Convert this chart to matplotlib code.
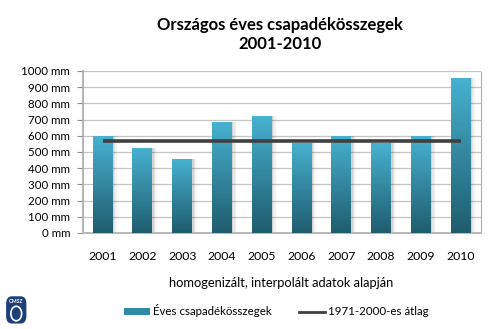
import matplotlib

matplotlib.use("Agg")
import matplotlib.pyplot as plt  # noqa: E402
import numpy as np  # noqa: E402
from matplotlib.colors import LinearSegmentedColormap  # noqa: E402
from matplotlib.lines import Line2D  # noqa: E402
from matplotlib.patches import Patch, FancyBboxPatch  # noqa: E402

plt.rcParams["font.family"] = ["Lato", "DejaVu Sans"]

# Annual precipitation totals for Hungary (mm)
YEARS = ["2001", "2002", "2003", "2004", "2005", "2006", "2007", "2008", "2009", "2010"]
PRECIP = [598, 527, 459, 683, 724, 556, 601, 555, 597, 959]
AVG_1971_2000 = 566
Y_TICKS = [0, 100, 200, 300, 400, 500, 600, 700, 800, 900, 1000]

TITLE = "Országos éves csapadékösszegek\n2001-2010"
XLABEL = "homogenizált, interpolált adatok alapján"
BAR_LABEL = "Éves csapadékösszegek"
AVG_LABEL = "1971-2000-es átlag"

BAR_TOP = "#47b2d2"
BAR_BOTTOM = "#1f5c6c"
BAR_WIDTH = 0.5

fig = plt.figure(figsize=(5.0, 3.29), dpi=100)
ax = fig.add_axes([0.1654, 0.2918, 0.7956, 0.4924])

x = np.arange(len(YEARS))
ax.set_xlim(-0.5, len(YEARS) - 0.5)
ax.set_ylim(0, 1000)

# soft drop shadow right of each bar
for k, a in enumerate([0.07, 0.05, 0.03, 0.02]):
    ax.bar(x + 0.04 + 0.03 * k, PRECIP, width=BAR_WIDTH, color="#000000",
           alpha=a, linewidth=0, zorder=2)

cmap = LinearSegmentedColormap.from_list("bar", [BAR_BOTTOM, BAR_TOP])
grad = np.linspace(0, 1, 256).reshape(-1, 1)
bars = ax.bar(x, PRECIP, width=BAR_WIDTH, color="none", linewidth=0, zorder=3)
for rect in bars:
    x0, h = rect.get_x(), rect.get_height()
    img = ax.imshow(grad, cmap=cmap, origin="lower", aspect="auto",
                    extent=(x0, x0 + rect.get_width(), 0, h), zorder=3)
    img.set_clip_path(rect)

ax.plot([x[0], x[-1]], [AVG_1971_2000, AVG_1971_2000], color="#404040",
        linewidth=2.6, solid_capstyle="butt", zorder=4)

ax.set_yticks(Y_TICKS)
ax.set_yticklabels([f"{v} mm" for v in Y_TICKS], fontsize=8.3)
ax.set_xticks(x)
ax.set_xticklabels(YEARS, fontsize=8.8)
ax.tick_params(axis="y", length=4, width=0.8, color="#909090", pad=5)
ax.tick_params(axis="x", length=0, pad=13)
ax.grid(True, axis="y", color="#c4c4c4", linewidth=0.9, zorder=0)
ax.set_axisbelow(True)

ax.spines["top"].set_visible(False)
ax.spines["left"].set_color("#a8a8a8")
ax.spines["left"].set_linewidth(1.2)
ax.spines["bottom"].set_color("#b8b8b8")
ax.spines["bottom"].set_linewidth(1.4)
ax.spines["right"].set_color("#b0b0b0")
ax.spines["right"].set_linestyle((0, (1, 1)))
ax.spines["right"].set_linewidth(0.8)

ax.set_xlabel(XLABEL, fontsize=9.3, labelpad=11)

fig.text(0.56, 0.895, TITLE, ha="center", va="center", fontsize=12,
         fontweight="bold", linespacing=1.3)

handles = [
    Patch(facecolor="#2f8aa4", edgecolor="none", label=BAR_LABEL),
    Line2D([0], [0], color="#404040", linewidth=2, label=AVG_LABEL),
]
fig.legend(handles=handles, loc="center", bbox_to_anchor=(0.552, 0.055), ncol=2,
           frameon=False, fontsize=8.3, handlelength=2.3, handleheight=0.6,
           columnspacing=2.4, handletextpad=0.2)

# small institute badge, bottom left
badge = fig.add_axes([0.010, 0.012, 0.045, 0.092])
badge.set_xlim(0, 1)
badge.set_ylim(0, 1)
badge.axis("off")
badge.add_patch(FancyBboxPatch((0.05, 0.05), 0.9, 0.9,
                               boxstyle="round,pad=0,rounding_size=0.25",
                               facecolor="#1d3f7a", edgecolor="none"))
badge.text(0.5, 0.78, "OMSZ", color="white", fontsize=3.6, fontweight="bold",
           ha="center", va="center")
badge.add_patch(plt.Circle((0.5, 0.38), 0.24, facecolor="none", edgecolor="white",
                           linewidth=1.2))

fig.savefig("out.png", dpi=100)
